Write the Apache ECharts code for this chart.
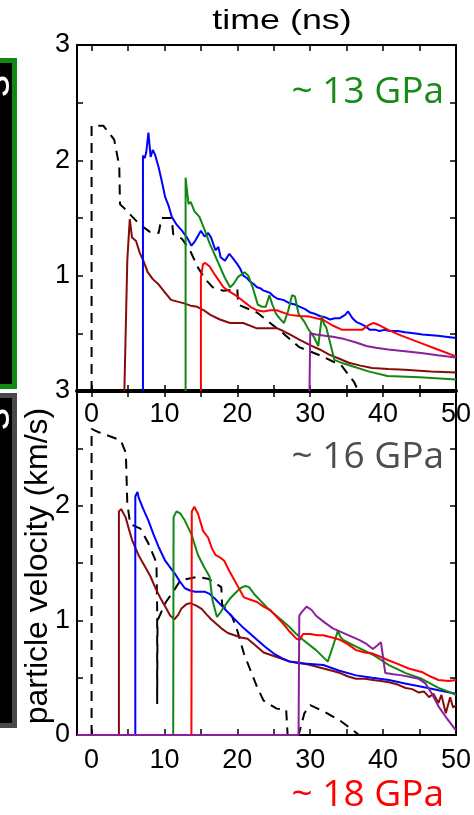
<!DOCTYPE html>
<html>
<head>
<meta charset="utf-8">
<script src="https://cdn.jsdelivr.net/npm/echarts@6/dist/echarts.min.js"></script>
<style>
html,body{margin:0;padding:0;background:#fff;}
#c{width:474px;height:815px;}
</style>
</head>
<body>
<div id="c"></div>
<script>
// ---------- axis values ----------
const xTickValues = [0,5,10,15,20,25,30,35,40,45,50];
const xLabelValues = [0,10,20,30,40,50];
const yTickValues = [0.5,1,1.5,2,2.5];
const yLabelsTop = [1,2,3];
const yLabelsBottom = [0,1,2,3];
const pressureLabels = ['~ 13 GPa','~ 16 GPa','~ 18 GPa'];

// ---------- top panel (~13 GPa) ----------
const topDashed = [[0,0],[0,2.30],[1.6,2.30],[3.1,2.18],[3.8,1.95],[3.9,1.62],[4.4,1.59],[6.5,1.45],[8.0,1.38],[9.2,1.37],[9.6,1.50],[11.0,1.50],[11.2,1.36],[12.4,1.32],[13.5,1.22],[14.6,1.07],[15.6,0.97],[16.6,0.90],[18.0,0.87],[20.0,0.88],[20.1,0.75],[22.7,0.68],[24.3,0.60],[25.9,0.52],[28.5,0.38],[31.3,0.31],[34.3,0.22],[36,0.08],[36.6,0]];
const topBlue = [[7.05,0],[7.05,2.04],[7.3,2.02],[7.5,2.07],[7.8,2.24],[8.1,2.03],[8.4,2.09],[8.7,2.05],[9.2,1.94],[9.7,1.80],[10.1,1.68],[10.6,1.60],[11.0,1.51],[11.7,1.44],[12.4,1.39],[13.1,1.33],[13.7,1.26],[14.2,1.30],[15.0,1.39],[15.5,1.34],[16.0,1.37],[16.4,1.33],[17.0,1.22],[17.4,1.25],[17.7,1.16],[18.3,1.13],[18.9,1.19],[19.4,1.15],[20.0,1.10],[20.4,1.06],[20.8,1.00],[21.3,0.98],[21.7,0.95],[22.2,0.93],[22.7,0.90],[23.2,0.89],[23.6,0.87],[24.1,0.86],[24.5,0.85],[25.0,0.82],[25.5,0.80],[26.3,0.79],[27.2,0.76],[27.9,0.75],[28.6,0.73],[29.3,0.71],[30.0,0.68],[30.6,0.67],[31.3,0.65],[32.0,0.64],[32.7,0.62],[33.4,0.63],[34.0,0.63],[34.8,0.66],[35.2,0.69],[35.8,0.63],[36.3,0.60],[37.0,0.58],[37.6,0.56],[38.2,0.53],[39.0,0.53],[39.5,0.52],[40.2,0.53],[40.9,0.52],[42.0,0.52],[43.0,0.51],[44.2,0.50],[45.4,0.49],[47.5,0.48],[50,0.46]];
const topGreen = [[12.9,0],[12.9,1.85],[13.3,1.62],[13.6,1.64],[14.1,1.56],[14.8,1.51],[15.5,1.40],[16.2,1.28],[16.9,1.18],[17.6,1.08],[18.3,0.98],[19.0,0.90],[19.5,0.93],[20.1,0.99],[21.0,1.03],[21.5,1.00],[22.1,0.90],[22.8,0.75],[23.4,0.73],[23.9,0.73],[24.4,0.83],[24.8,0.75],[25.3,0.67],[25.8,0.63],[26.4,0.59],[27.0,0.70],[27.5,0.83],[27.9,0.82],[28.4,0.67],[29.2,0.60],[29.8,0.53],[30.5,0.47],[31.1,0.39],[31.6,0.65],[31.9,0.58],[32.2,0.55],[32.8,0.40],[33.3,0.27],[34.5,0.24],[36,0.21],[38,0.17],[40.6,0.13],[45,0.12],[50,0.10]];
const topRed = [[15.0,0],[15.0,0.99],[15.3,1.10],[15.6,1.11],[16.2,1.08],[17.0,1.00],[18.1,0.90],[19.0,0.86],[20.0,0.82],[21.0,0.77],[21.8,0.73],[22.7,0.70],[23.6,0.69],[24.5,0.70],[25.4,0.70],[26.3,0.68],[27.2,0.66],[28.5,0.65],[29.9,0.645],[30.8,0.63],[31.7,0.62],[33.0,0.57],[34.4,0.53],[36,0.53],[37.1,0.53],[38.0,0.57],[38.7,0.59],[39.5,0.57],[40.7,0.53],[42.5,0.48],[45.2,0.415],[47.5,0.36],[50,0.30]];
const topPurple = [[29.9,0],[30.0,0.50],[30.8,0.49],[32,0.48],[33.1,0.47],[34.7,0.45],[36.3,0.42],[37.7,0.39],[39,0.375],[40.7,0.36],[43,0.345],[45.2,0.33],[47.5,0.31],[50,0.29]];
const topMaroon = [[4.5,0],[4.9,1.13],[5.24,1.49],[5.55,1.33],[5.8,1.32],[6.1,1.30],[6.6,1.20],[7.1,1.13],[7.7,1.03],[8.4,0.97],[9.1,0.93],[10.0,0.86],[10.9,0.79],[11.8,0.775],[12.7,0.76],[13.6,0.74],[14.5,0.73],[15.4,0.70],[16.3,0.66],[17.6,0.62],[19,0.59],[20.8,0.59],[22.6,0.545],[24,0.545],[25.4,0.545],[26.3,0.52],[27.2,0.49],[28.5,0.445],[29.9,0.40],[31.3,0.36],[32.6,0.315],[34,0.28],[35.3,0.245],[36.9,0.22],[38.5,0.20],[40.7,0.19],[43,0.185],[46.5,0.17],[50,0.16]];

// ---------- bottom panel (~16 / ~18 GPa) ----------
const botDashed = [[0,0],[0,2.67],[1.0,2.64],[4.0,2.57],[4.7,2.46],[4.8,2.25],[4.9,2.02],[5.3,1.84],[6.7,1.80],[7.8,1.67],[8.6,1.55],[8.9,1.50],[9.0,1.10],[9.0,0.27],[9.05,1.0],[10.2,1.16],[11.2,1.25],[12.2,1.35],[14.6,1.38],[16.1,1.36],[17.8,1.29],[17.9,1.14],[19.3,1.03],[20.0,0.91],[20.9,0.71],[22.7,0.42],[23.6,0.30],[25.4,0.23],[26.7,0.22],[26.9,0.0],[28.4,0],[29.2,0.19],[30,0.26],[31.7,0.21],[34,0.13],[35.5,0.06],[36.7,0]];
const botBlue = [[-2,0],[6.0,0],[6.0,2.08],[6.3,2.12],[6.46,2.07],[7.1,1.97],[7.8,1.87],[8.5,1.75],[9.2,1.64],[10.1,1.52],[10.8,1.46],[11.4,1.41],[12.1,1.34],[12.8,1.28],[13.5,1.26],[14.2,1.25],[15.5,1.25],[16.2,1.23],[16.9,1.19],[17.8,1.13],[18.7,1.07],[19.8,1.00],[20.9,0.93],[21.8,0.88],[22.7,0.83],[23.8,0.77],[25,0.71],[26.1,0.67],[27.2,0.64],[28.5,0.625],[30,0.62],[31.8,0.61],[34,0.56],[36.3,0.52],[38.5,0.50],[40.8,0.48],[43,0.45],[45.3,0.42],[47.6,0.39],[50,0.36]];
const botMaroon = [[-2,0],[3.75,0],[3.75,1.95],[4.05,1.97],[4.66,1.90],[5.1,1.80],[5.56,1.70],[6.5,1.56],[7.4,1.46],[8.1,1.38],[8.7,1.29],[9.4,1.20],[10.1,1.12],[10.8,1.04],[11.4,1.01],[11.9,1.05],[12.3,1.10],[13.0,1.14],[13.5,1.15],[14.3,1.13],[15.1,1.10],[15.8,1.05],[16.4,1.01],[17.1,0.97],[17.8,0.93],[18.7,0.89],[19.6,0.87],[20.5,0.85],[21.4,0.84],[22.5,0.78],[23.6,0.72],[24.5,0.70],[25.4,0.68],[26.3,0.66],[27.2,0.64],[28.6,0.63],[30,0.61],[31.8,0.58],[33,0.56],[34.1,0.54],[35.2,0.51],[36.3,0.49],[37.5,0.49],[38.6,0.48],[39.7,0.47],[40.8,0.46],[42,0.44],[43.1,0.41],[44,0.40],[44.9,0.37],[45.6,0.38],[46.3,0.33],[46.9,0.36],[47.6,0.28],[48.0,0.35],[48.6,0.19],[49.2,0.33],[49.6,0.24],[50,0.26]];
const botGreen = [[-2,0],[11.2,0],[11.25,1.90],[11.65,1.95],[12.2,1.93],[12.8,1.87],[13.7,1.75],[14.6,1.57],[15.4,1.47],[16.2,1.38],[16.6,1.17],[17.2,1.03],[17.7,1.07],[18.2,1.12],[19.0,1.19],[19.6,1.23],[20.4,1.28],[21.1,1.30],[21.6,1.29],[22.3,1.23],[23.2,1.17],[24.1,1.11],[25,1.06],[26.1,1.00],[27.2,0.94],[28.1,0.88],[29,0.83],[30.8,0.74],[32.4,0.64],[33.1,0.77],[33.8,0.91],[34.1,0.86],[34.5,0.83],[36.3,0.77],[38.6,0.70],[40.8,0.61],[43.1,0.54],[45.3,0.49],[47.6,0.41],[48.9,0.38],[50,0.35]];
const botRed = [[-2,0],[13.7,0],[13.75,1.95],[14.1,1.99],[14.6,1.93],[15.3,1.78],[16,1.72],[16.5,1.63],[17,1.57],[17.6,1.55],[18.2,1.52],[18.9,1.43],[19.6,1.35],[20.3,1.27],[20.9,1.20],[21.8,1.18],[22.7,1.16],[23.6,1.12],[24.5,1.09],[25.4,1.03],[26.3,0.97],[27.2,0.90],[28.1,0.84],[28.6,0.83],[29,0.88],[30,0.88],[31,0.87],[31.8,0.87],[33,0.85],[34.1,0.83],[35.2,0.79],[36.3,0.74],[37.5,0.72],[38.6,0.71],[39.7,0.68],[40.8,0.65],[42,0.62],[43.5,0.58],[45.3,0.55],[46.5,0.51],[47.6,0.48],[49,0.47],[50,0.48]];
const botPurple = [[-2,0],[28.4,0],[28.5,1.04],[28.8,1.07],[29.5,1.12],[30.2,1.09],[30.8,1.04],[32,0.98],[33.1,0.93],[34.9,0.88],[36.7,0.83],[37.6,0.80],[38.6,0.75],[39.2,0.78],[39.7,0.81],[40.3,0.54],[41.4,0.53],[42.6,0.52],[44.9,0.49],[45.8,0.45],[46.7,0.36],[47.6,0.25],[48.8,0.14],[50,0.04]];

const C = {blue:'#0000ff', green:'#128812', red:'#ff0000', purple:'#8a1f9a', maroon:'#860c0c', dash:'#000000'};
const FONT = "Liberation Sans";

const chart = echarts.init(document.getElementById('c'), null, {renderer:'canvas'});

function xAx(grid, pos, labels, lineW, margin){
  return {
    type:'value', gridIndex:grid, position:pos, min:-2, max:50,
    axisLine:{show:true, onZero:false, lineStyle:{color:'#000', width:lineW}},
    axisTick:{show:true, inside:true, length:6, customValues:xTickValues, lineStyle:{color:'#000', width:1.5}},
    axisLabel:{show:labels, customValues:xLabelValues, fontSize:27, fontFamily:FONT, color:'#000', margin:margin || 8},
    splitLine:{show:false}
  };
}
function yAx(grid, pos, labels){
  return {
    type:'value', gridIndex:grid, position:pos, min:0, max:3,
    axisLine:{show:true, onZero:false, lineStyle:{color:'#000', width:2}},
    axisTick:{show:true, inside:true, length:6, customValues:yTickValues, lineStyle:{color:'#000', width:1.5}},
    axisLabel:{show:!!labels, customValues:labels || [], fontSize:27, fontFamily:FONT, color:'#000', margin:7},
    splitLine:{show:false}
  };
}
function line(data, color, xi, yi, dashed){
  return {
    type:'line', data:data, xAxisIndex:xi, yAxisIndex:yi, showSymbol:false, symbol:'none',
    animation:false, clip:true,
    lineStyle:{color:color, width:2, type: dashed ? [10,7] : 'solid'}
  };
}

const option = {
  animation:false,
  backgroundColor:'#fff',
  grid:[
    {left:77, right:13, top:45, height:346, show:false},
    {left:77, right:13, top:391, height:344, show:false}
  ],
  xAxis:[
    xAx(0,'bottom',true,4,10),
    xAx(0,'top',false,2),
    xAx(1,'bottom',true,2,12),
    xAx(1,'top',false,2)
  ],
  yAxis:[
    yAx(0,'left',yLabelsTop),
    yAx(0,'right',null),
    yAx(1,'left',yLabelsBottom),
    yAx(1,'right',null)
  ],
  series:[
    line(topDashed, C.dash, 0, 0, true),
    line(topMaroon, C.maroon, 0, 0),
    line(topBlue, C.blue, 0, 0),
    line(topGreen, C.green, 0, 0),
    line(topRed, C.red, 0, 0),
    line(topPurple, C.purple, 0, 0),
    line(botDashed, C.dash, 2, 2, true),
    line(botMaroon, C.maroon, 2, 2),
    line(botBlue, C.blue, 2, 2),
    line(botGreen, C.green, 2, 2),
    line(botRed, C.red, 2, 2),
    line(botPurple, C.purple, 2, 2)
  ],
  graphic:[
    {type:'rect', shape:{x:-10, y:58, width:27, height:331}, style:{fill:'#118811'}, z:10},
    {type:'rect', shape:{x:-10, y:63, width:22, height:321}, style:{fill:'#000'}, z:11},
    {type:'rect', shape:{x:-10, y:393, width:27, height:335}, style:{fill:'#484848'}, z:10},
    {type:'rect', shape:{x:-10, y:398, width:22, height:325}, style:{fill:'#000'}, z:11},
    {type:'text', x:-3, y:86, rotation:Math.PI/2, z:12,
      style:{text:'s', font:"44px 'Liberation Sans'", fill:'#fff', textAlign:'center', textVerticalAlign:'middle'}},
    {type:'text', x:-3, y:419, rotation:Math.PI/2, z:12,
      style:{text:'s', font:"44px 'Liberation Sans'", fill:'#fff', textAlign:'center', textVerticalAlign:'middle'}},
    {type:'text', x:38, y:566, rotation:Math.PI/2, z:12,
      style:{text:'particle velocity (km/s)', font:"32px 'Liberation Sans'", fill:'#000', textAlign:'center', textVerticalAlign:'middle'}},
    {type:'text', x:282, y:21, scaleX:1.28, z:12,
      style:{text:'time (ns)', font:"28px 'Liberation Sans'", fill:'#000', textAlign:'center', textVerticalAlign:'middle'}},
    {type:'text', x:444, y:92, z:12,
      style:{text:pressureLabels[0], font:"37px 'Open Sans'", fill:'#178a17', textAlign:'right', textVerticalAlign:'middle'}},
    {type:'text', x:444, y:457, z:12,
      style:{text:pressureLabels[1], font:"37px 'Open Sans'", fill:'#4d4d4d', textAlign:'right', textVerticalAlign:'middle'}},
    {type:'text', x:444, y:795, z:12,
      style:{text:pressureLabels[2], font:"37px 'Open Sans'", fill:'#ff0000', textAlign:'right', textVerticalAlign:'middle'}}
  ]
};
chart.setOption(option);
</script>
</body>
</html>
